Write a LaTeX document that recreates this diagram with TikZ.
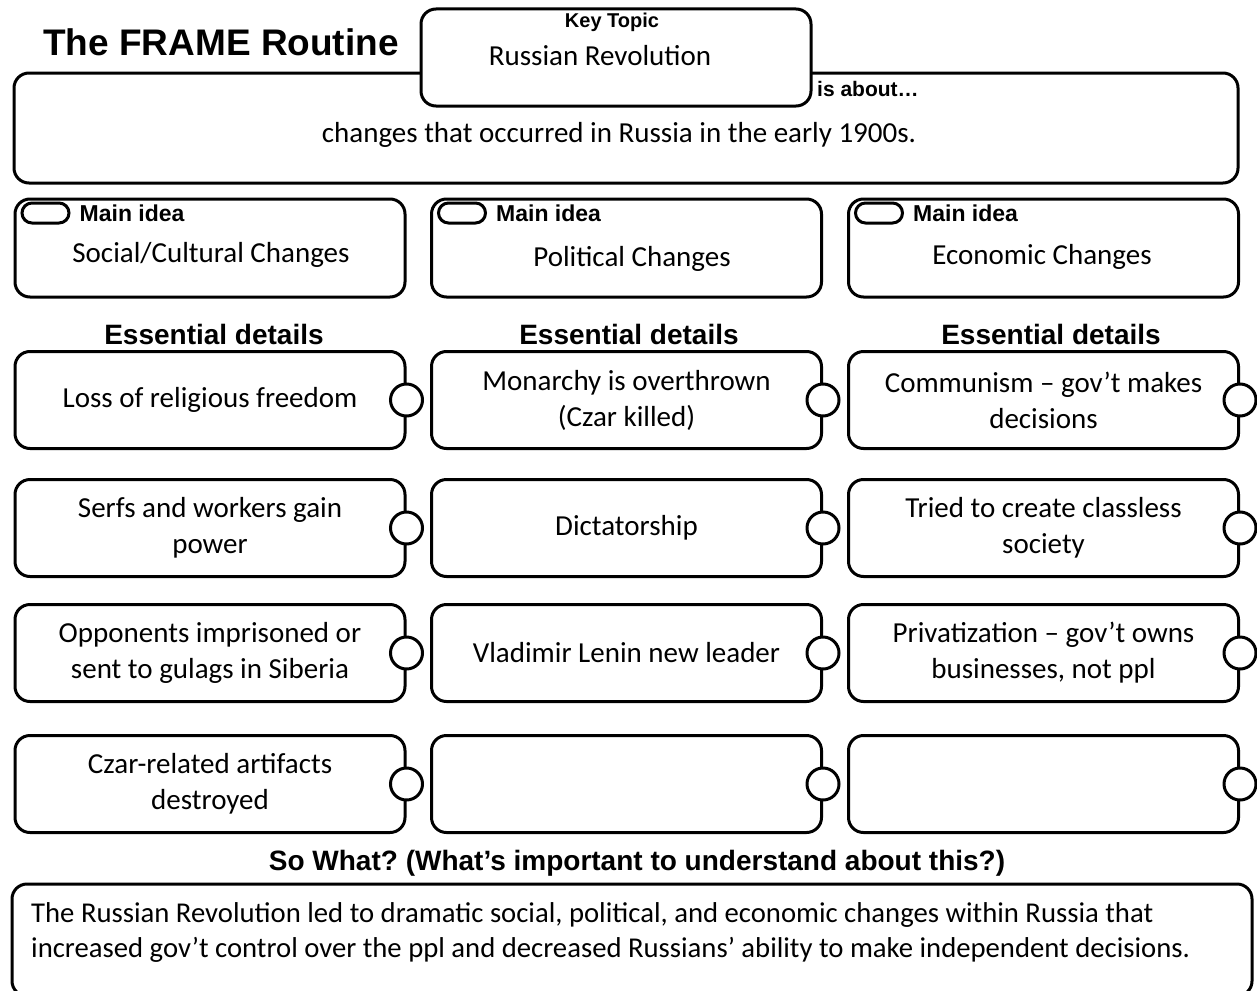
\documentclass[tikz,border=0pt]{standalone}
\usepackage{fontspec}
\setmainfont{Carlito}
\newfontfamily\headfont{Liberation Sans}
\usetikzlibrary{positioning}
\frenchspacing

\begin{document}
\begin{tikzpicture}[x=1pt,y=-1pt,
        frame/.style={draw, line width=3pt, rounded corners=15pt, fill=white, inner sep=0pt},
        detailbox/.style={frame, minimum width=390pt, minimum height=97pt, align=center,
            font=\fontsize{29}{36}\selectfont},
        knob/.style={circle, draw, line width=3pt, fill=white, minimum size=32pt, inner sep=0pt},
        tag/.style={draw, line width=3pt, rounded corners=10pt, fill=white,
            minimum width=47pt, minimum height=20pt, inner sep=0pt},
        heading/.style={font=\headfont\bfseries\fontsize{28}{32}\selectfont, inner sep=0pt},
        body/.style={font=\fontsize{29}{36}\selectfont, inner sep=0pt}]
            \useasboundingbox (0,0) rectangle (1257,990);
            \clip (0,0) rectangle (1257,990);
            % header
            \node[heading, font=\headfont\bfseries\fontsize{37}{40}\selectfont] (title) at (221,42) {The FRAME Routine};
            \node[frame, minimum width=1224pt, minimum height=110pt] (about) at (626,128) {};
            \node[frame, minimum width=390pt, minimum height=97pt] (topic) at (616,57.5) {};
            \node[heading, font=\headfont\bfseries\fontsize{20}{22}\selectfont] (keylabel) at (612,22) {Key Topic};
            \node[body] (keytext) at (600,56) {Russian Revolution};
            \node[heading, font=\headfont\bfseries\fontsize{21}{24}\selectfont, anchor=west] (aboutlabel) at (817,89) {is about\dots};
            \node[body] (abouttext) at (619,135) {changes that occurred in Russia in the early 1900s.};
            % main ideas
            \node[frame, minimum width=390pt, minimum height=98pt] (idea1) at (210,248) {};
            \node[frame, minimum width=390pt, minimum height=98pt] (idea2) at (626.5,248) {};
            \node[frame, minimum width=390pt, minimum height=98pt] (idea3) at (1043.5,248) {};
            \foreach \i in {1,2,3} {
                \node[tag, anchor=north west] (tag\i) at ([xshift=7pt,yshift=-4pt]idea\i.north west) {};
                \node[heading, font=\headfont\bfseries\fontsize{23}{26}\selectfont, anchor=west] (idealabel\i) at ([xshift=9pt]tag\i.east) {Main idea};
            }
            \node[body] (ideatext1) at (211,255) {Social/Cultural Changes};
            \node[body] (ideatext2) at (632,259) {Political Changes};
            \node[body] (ideatext3) at (1042,257) {Economic Changes};
            % essential details
            \node[heading] (detlabel1) at (214,334) {Essential details};
            \node[heading] (detlabel2) at (629,334) {Essential details};
            \node[heading] (detlabel3) at (1051,334) {Essential details};
            \node[detailbox] (d11) at (210,400) {Loss of religious freedom};
            \node[detailbox] (d12) at (210,528) {Serfs and workers gain\\power};
            \node[detailbox] (d13) at (210,653) {Opponents imprisoned or\\sent to gulags in Siberia};
            \node[detailbox] (d14) at (210,784) {Czar-related artifacts\\destroyed};
            \node[detailbox] (d21) at (626.5,400) {Monarchy is overthrown\\(Czar killed)};
            \node[detailbox] (d22) at (626.5,528) {Dictatorship};
            \node[detailbox] (d23) at (626.5,653) {Vladimir Lenin new leader};
            \node[detailbox] (d24) at (626.5,784) {};
            \node[detailbox] (d31) at (1043.5,400) {Communism -- gov’t makes\\decisions};
            \node[detailbox] (d32) at (1043.5,528) {Tried to create classless\\society};
            \node[detailbox] (d33) at (1043.5,653) {Privatization -- gov’t owns\\businesses, not ppl};
            \node[detailbox] (d34) at (1043.5,784) {};
            \foreach \b in {d11,d12,d13,d14,d21,d22,d23,d24,d31,d32,d33,d34}
                \node[knob] at (\b.east) {};
            % so what
            \node[heading] (sowhat) at (637,863) {So What? (What’s important to understand about this?)};
            \node[frame, minimum width=1240pt, minimum height=112pt] (summary) at (632,940) {};
            \node[body, align=left, anchor=west, font=\fontsize{28.7}{35}\selectfont] (summarytext) at (31,932)
                {The Russian Revolution led to dramatic social, political, and economic changes within Russia that\\
                 increased gov’t control over the ppl and decreased Russians’ ability to make independent decisions.};
        \end{tikzpicture}
\end{document}
